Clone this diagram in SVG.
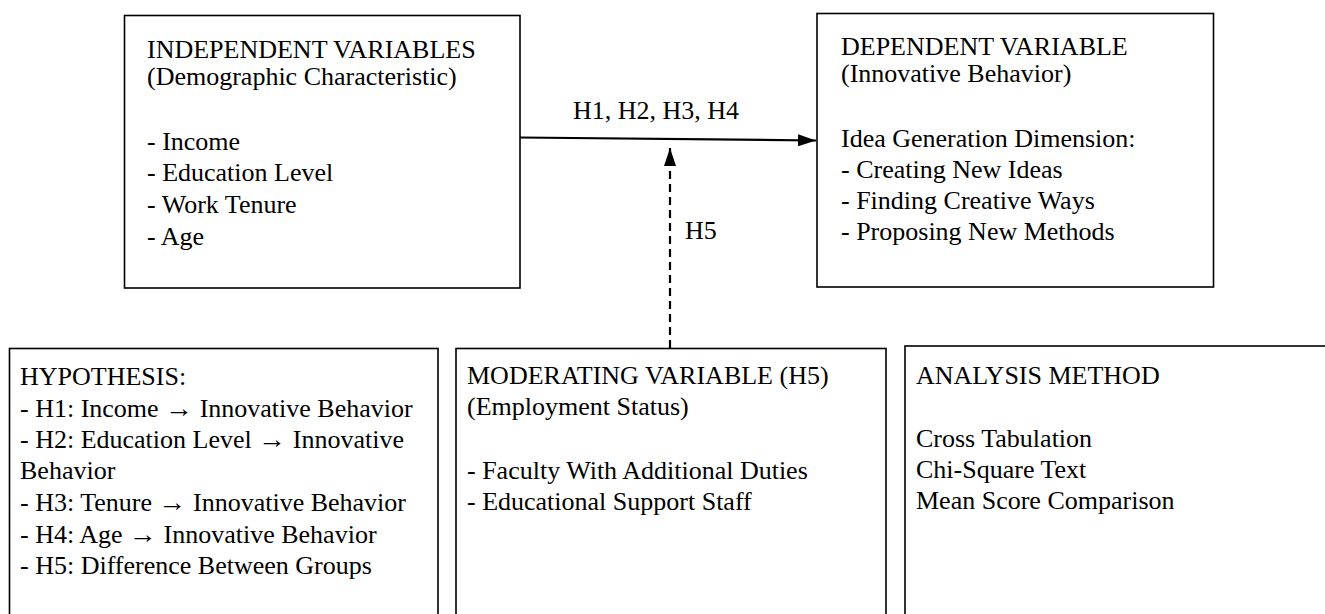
<svg xmlns="http://www.w3.org/2000/svg" width="1325" height="614" viewBox="0 0 1325 614">
<style>
.box{fill:#fff;stroke:#000;stroke-width:1.6}
.t{font-family:"Liberation Serif","Times New Roman",serif;font-size:26px;fill:#000}
.ar{font-family:"Liberation Sans",Arial,sans-serif}
.conn{fill:none;stroke:#000;stroke-width:2.2}
.dash{stroke-dasharray:8 5}
</style>
<defs>
<marker id="ah" viewBox="0 0 18 12" refX="18" refY="6" markerWidth="18" markerHeight="12" markerUnits="userSpaceOnUse" orient="auto">
<path d="M0,0 L18,6 L0,12 Z" fill="#000"/>
</marker>
</defs>
<rect width="1325" height="614" fill="#fff"/>
<g id="independent">
<rect class="box" x="124.5" y="15.5" width="395.5" height="272.5"/>
<text class="t" x="147" y="58">INDEPENDENT VARIABLES</text>
<text class="t" x="147" y="85">(Demographic Characteristic)</text>
<text class="t" x="147" y="150">- Income</text>
<text class="t" x="147" y="181">- Education Level</text>
<text class="t" x="147" y="213">- Work Tenure</text>
<text class="t" x="147" y="245">- Age</text>
</g>
<g id="dependent">
<rect class="box" x="817" y="13.5" width="396.5" height="273.5"/>
<text class="t" x="841" y="55">DEPENDENT VARIABLE</text>
<text class="t" x="841" y="82">(Innovative Behavior)</text>
<text class="t" x="841" y="147">Idea Generation Dimension:</text>
<text class="t" x="841" y="178">- Creating New Ideas</text>
<text class="t" x="841" y="209">- Finding Creative Ways</text>
<text class="t" x="841" y="240">- Proposing New Methods</text>
</g>
<g id="hypothesis">
<rect class="box" x="9.5" y="348.5" width="428.5" height="280"/>
<text class="t" x="20" y="385">HYPOTHESIS:</text>
<text class="t" x="20" y="416.5">- H1: Income <tspan class="ar" textLength="28" lengthAdjust="spacingAndGlyphs">→</tspan> Innovative Behavior</text>
<text class="t" x="20" y="448">- H2: Education Level <tspan class="ar" textLength="28" lengthAdjust="spacingAndGlyphs">→</tspan> Innovative</text>
<text class="t" x="20" y="479">Behavior</text>
<text class="t" x="20" y="511">- H3: Tenure <tspan class="ar" textLength="28" lengthAdjust="spacingAndGlyphs">→</tspan> Innovative Behavior</text>
<text class="t" x="20" y="542.5">- H4: Age <tspan class="ar" textLength="28" lengthAdjust="spacingAndGlyphs">→</tspan> Innovative Behavior</text>
<text class="t" x="20" y="574">- H5: Difference Between Groups</text>
</g>
<g id="moderating">
<rect class="box" x="456" y="348.5" width="430" height="280"/>
<text class="t" x="467" y="384">MODERATING VARIABLE (H5)</text>
<text class="t" x="467" y="415">(Employment Status)</text>
<text class="t" x="467" y="479">- Faculty With Additional Duties</text>
<text class="t" x="467" y="510">- Educational Support Staff</text>
</g>
<g id="analysis">
<rect class="box" x="905" y="346" width="440" height="290"/>
<text class="t" x="916" y="384">ANALYSIS METHOD</text>
<text class="t" x="916" y="447">Cross Tabulation</text>
<text class="t" x="916" y="478">Chi-Square Text</text>
<text class="t" x="916" y="509">Mean Score Comparison</text>
</g>
<g id="connectors">
<line class="conn" x1="520" y1="137.5" x2="816" y2="140.5" marker-end="url(#ah)"/>
<text class="t" x="573" y="119">H1, H2, H3, H4</text>
<line class="conn dash" x1="670" y1="348" x2="670" y2="148" marker-end="url(#ah)"/>
<text class="t" x="685" y="239">H5</text>
</g>
</svg>
